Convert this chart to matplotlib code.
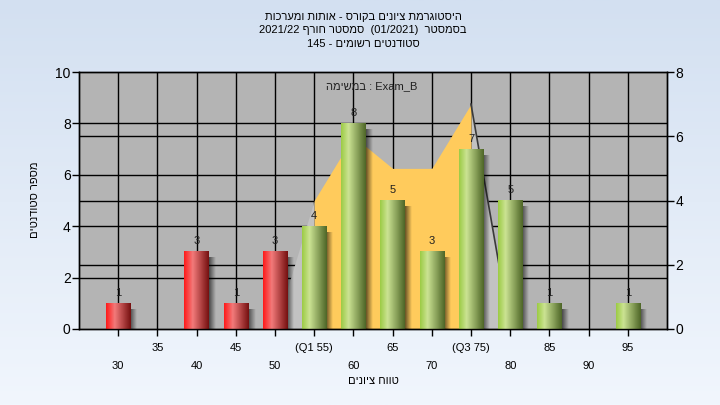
import numpy as np
import matplotlib
matplotlib.use('Agg')
import matplotlib.pyplot as plt
from matplotlib.colors import LinearSegmentedColormap

plt.rcParams['font.family'] = ['Liberation Sans', 'DejaVu Sans']

# histogram of grades
grades = [30, 35, 40, 45, 50, 55, 60, 65, 70, 75, 80, 85, 90, 95]
counts = [1, 0, 3, 1, 3, 4, 8, 5, 3, 7, 5, 1, 0, 1]
tick_labels = ['30', '35', '40', '45', '50', '(Q1 55)', '60', '65', '70',
               '(Q3 75)', '80', '85', '90', '95']
pass_grade = 55

# yellow area, right axis
area_x = [55, 60, 65, 70, 75]
area_y = [4, 6, 5, 5, 7]
left_side_x = [50, 55]
left_side_y = [0, 4]
right_side_x = [75, 80]
right_side_y = [7, 0]

left_ticks = [0, 2, 4, 6, 8, 10]
right_ticks = [0, 2, 4, 6, 8]


def rtl(s):
    # matplotlib has no bidi, so hebrew is written in visual order
    return s[::-1]


title1 = rtl('היסטוגרמת ציונים בקורס - אותות ומערכות')
title2 = '2021/22 ' + rtl('סמסטר חורף') + '  (01/2021)  ' + rtl('בסמסטר')
title3 = '145 - ' + rtl('סטודנטים רשומים')
legend_text = rtl('במשימה') + ' : Exam_B'
ylabel = rtl('מספר סטודנטים')
xlabel = rtl('טווח ציונים')

W, H = 720, 405
fig = plt.figure(figsize=(W / 100, H / 100), dpi=100)

# light blue gradient background
bg = fig.add_axes([0, 0, 1, 1], zorder=-10)
grad = np.linspace(0, 1, 256).reshape(-1, 1)
bg_cmap = LinearSegmentedColormap.from_list('bg', ['#D3E0F1', '#F1F6FD'])
bg.imshow(grad, cmap=bg_cmap, aspect='auto', extent=[0, 1, 0, 1])
bg.set_axis_off()

x0, x1, y0, y1 = 79, 667, 72, 329
ax = fig.add_axes([x0 / W, 1 - y1 / H, (x1 - x0) / W, (y1 - y0) / H])
ax2 = ax.twinx()
ax.set_facecolor('#B4B4B4')

xmin, xmax = 25, 100
ax.set_xlim(xmin, xmax)
ax.set_ylim(0, 10)
ax2.set_ylim(0, 8)
xpx = (xmax - xmin) / (x1 - x0)
ypx = 10 / (y1 - y0)

# grid: vertical at every grade, horizontal at both axes' ticks
ax.set_axisbelow(True)
ax.vlines(grades, 0, 10, color='black', lw=1, zorder=0.5)
ax.hlines(left_ticks[1:-1], xmin, xmax, color='black', lw=1, zorder=0.5)
ax.hlines(right_ticks[1:-1], xmin, xmax, color='black', lw=1, zorder=0.5,
          transform=ax2.transData)

# area in right-axis units, drawn under the bars
ax.fill_between(left_side_x, left_side_y, color='#C2C2C2', lw=0, zorder=1,
                transform=ax2.transData)
ax.fill_between(right_side_x, right_side_y, color='#C2C2C2', lw=0, zorder=1,
                transform=ax2.transData)
ax.fill_between(area_x, area_y, color='#FFCB5C', lw=0, zorder=1.1,
                transform=ax2.transData)
ax.plot(right_side_x, right_side_y, color='#3A3A3A', lw=1.2, zorder=1.2,
        transform=ax2.transData)

red = LinearSegmentedColormap.from_list(
    'red', [(0, '#FF1A1A'), (0.35, '#F27A7A'), (1, '#761010')])
green = LinearSegmentedColormap.from_list(
    'green', [(0, '#9CCB45'), (0.3, '#CBE393'), (1, '#4E6627')])
hgrad = np.linspace(0, 1, 64).reshape(1, -1)
shadow = np.zeros((1, 32, 4))
shadow[0, :, 3] = np.linspace(0.6, 0, 32)

bars = ax.bar(grades, counts, width=3.1, color='none', lw=0)
for g, c, b in zip(grades, counts, bars):
    if c == 0:
        continue
    bx, bw = b.get_x(), b.get_width()
    ax.imshow(shadow, extent=[bx + bw, bx + bw + 7 * xpx, 0, c - 6 * ypx],
              aspect='auto', zorder=2)
    cmap = red if g < pass_grade else green
    ax.imshow(hgrad, cmap=cmap, extent=[bx, bx + bw, 0, c],
              aspect='auto', zorder=3)
    ax.annotate(str(c), (g, c), xytext=(0, 4), textcoords='offset points',
                ha='center', va='bottom', fontsize=8, color='#202020')

ax.set_xlim(xmin, xmax)
ax.set_ylim(0, 10)

# x ticks in two rows
ax.set_xticks(grades[0::2], tick_labels[0::2])
ax.set_xticks(grades[1::2], tick_labels[1::2], minor=True)
ax.tick_params(axis='x', which='both', length=5, width=1, labelsize=8)
ax.tick_params(axis='x', which='minor', pad=5)
ax.tick_params(axis='x', which='major', pad=18)
ax.set_yticks(left_ticks)
ax.tick_params(axis='y', length=5, width=1, labelsize=10, pad=1)
ax2.set_yticks(right_ticks)
ax2.tick_params(axis='y', length=5, width=1, labelsize=10, pad=1)
for a in (ax, ax2):
    for s in a.spines.values():
        s.set_color('black')
        s.set_linewidth(1)

ax.text(0.498, 0.944, legend_text, transform=ax.transAxes, ha='center',
        va='center', fontsize=8, color='#202020')

fig.text(363 / W, 1 - 17 / H, title1, ha='center', va='center', fontsize=8)
fig.text(363 / W, 1 - 30 / H, title2, ha='center', va='center', fontsize=8)
fig.text(363 / W, 1 - 44 / H, title3, ha='center', va='center', fontsize=8)
fig.text(35 / W, 1 - 200 / H, ylabel, rotation=90, ha='center', va='center',
         fontsize=8)
fig.text(373 / W, 1 - 381 / H, xlabel, ha='center', va='center', fontsize=8)

fig.savefig('out.png', dpi=100)
